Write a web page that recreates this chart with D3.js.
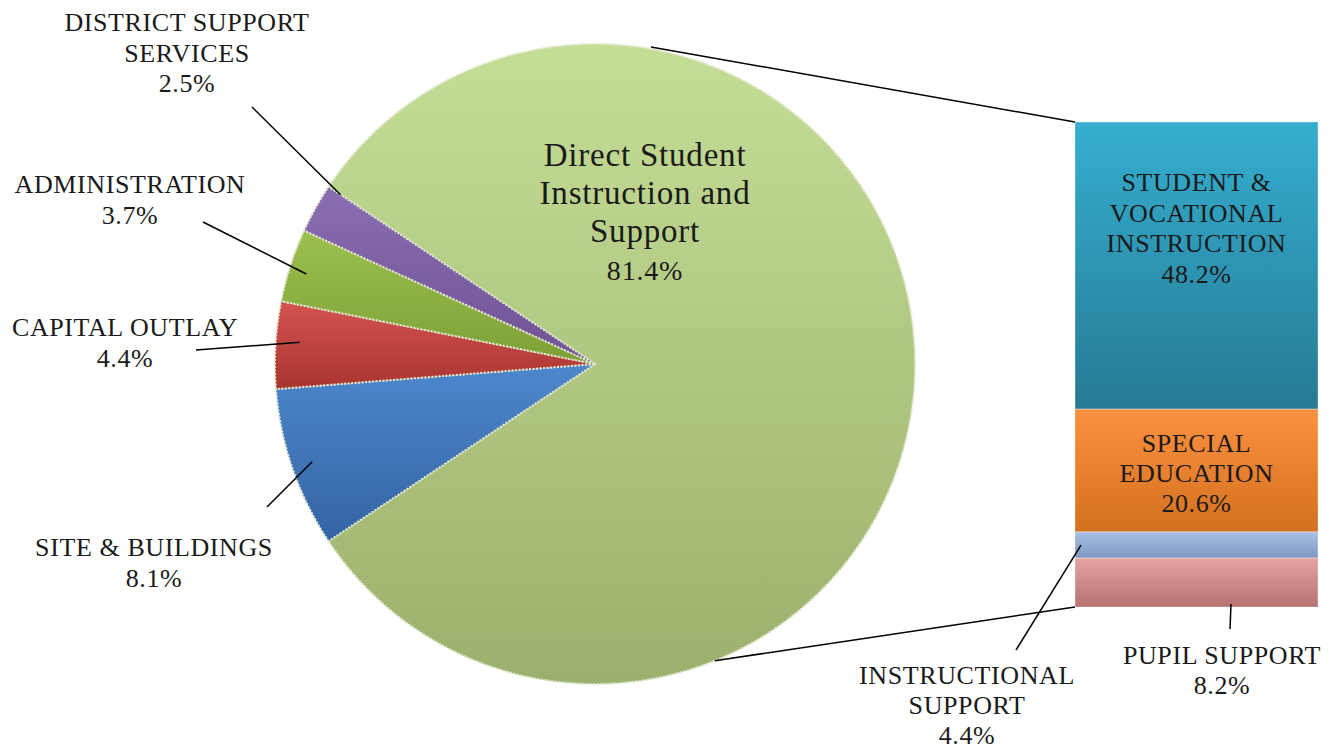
<!DOCTYPE html>
<html>
<head>
  <meta charset="utf-8" />
  <title>Expenditures by function</title>
  <style>
    body { margin: 0; background: #ffffff; }
    svg text { font-family: 'Liberation Serif', 'DejaVu Serif', serif; fill: #1a1a1a; }
  </style>
  <script src="https://cdnjs.cloudflare.com/ajax/libs/d3/7.8.5/d3.min.js"></script>
</head>
<body>
  <div id="chart"></div>
  <script>
    // pie slices (main slice first, then the small ones going round)
    var pieNames = ["Direct Student Instruction and Support", "SITE & BUILDINGS", "CAPITAL OUTLAY", "ADMINISTRATION", "DISTRICT SUPPORT SERVICES"];
    var pieLines = [["Direct Student", "Instruction and", "Support"], ["SITE & BUILDINGS"], ["CAPITAL OUTLAY"], ["ADMINISTRATION"], ["DISTRICT SUPPORT", "SERVICES"]];
    var pieValues = [81.4, 8.1, 4.4, 3.7, 2.5];

    // split of the main slice into the bar
    var barNames = ["STUDENT & VOCATIONAL INSTRUCTION", "SPECIAL EDUCATION", "INSTRUCTIONAL SUPPORT", "PUPIL SUPPORT"];
    var barLines = [["STUDENT &", "VOCATIONAL", "INSTRUCTION"], ["SPECIAL", "EDUCATION"], ["INSTRUCTIONAL", "SUPPORT"], ["PUPIL SUPPORT"]];
    var barValues = [48.2, 20.6, 4.4, 8.2];

    var pieColors = [["#c5de96", "#9bb06c"], ["#4d87cc", "#3464a3"], ["#d4534f", "#a83531"], ["#9cc04e", "#7e9f37"], ["#8b6db3", "#6f5394"]];
    var barColors = [["#35aed0", "#267a93"], ["#fb9140", "#d4701f"], ["#a7c0e3", "#7f98c2"], ["#e6a2a0", "#b47270"]];

    var w = 1334, h = 749;
    var cx = 595, cy = 364, r = 320;

    var svg = d3.select("#chart").append("svg")
      .attr("width", w)
      .attr("height", h);

    var defs = svg.append("defs");
    function grad(id, c) {
      var g = defs.append("linearGradient").attr("id", id)
        .attr("x1", 0).attr("y1", 0).attr("x2", 0).attr("y2", 1);
      g.append("stop").attr("offset", "0%").attr("stop-color", c[0]);
      g.append("stop").attr("offset", "100%").attr("stop-color", c[1]);
    }
    pieColors.forEach(function (c, i) { grad("pg" + i, c); });
    barColors.forEach(function (c, i) { grad("bg" + i, c); });

    // main slice centred on 3 o'clock like excel does
    var total = d3.sum(pieValues);
    var start = Math.PI / 2 - Math.PI * pieValues[0] / total;
    var pie = d3.pie().sort(null).startAngle(start).endAngle(start + 2 * Math.PI);
    var arcs = pie(pieValues);
    var arc = d3.arc().innerRadius(0).outerRadius(r);

    var g = svg.append("g").attr("transform", "translate(" + cx + "," + cy + ")");
    g.selectAll("path.slice")
      .data(arcs)
      .enter()
      .append("path")
      .attr("class", "slice")
      .attr("d", arc)
      .attr("fill", function (d, i) { return "url(#pg" + i + ")"; })
      .attr("stroke", "#dfe6cc")
      .attr("stroke-width", 2)
      .attr("stroke-dasharray", "2,1.5");

    function pt(a, rr) {
      return [cx + rr * Math.sin(a), cy - rr * Math.cos(a)];
    }

    // bar of the split
    var barX = 1075, barW = 243;
    var barY = d3.scaleLinear().domain([0, d3.sum(barValues)]).range([122, 607]);
    var cum = [0];
    barValues.forEach(function (v, i) { cum.push(cum[i] + v); });

    svg.append("g").selectAll("rect")
      .data(barValues)
      .enter()
      .append("rect")
      .attr("x", barX)
      .attr("y", function (d, i) { return barY(cum[i]); })
      .attr("width", barW)
      .attr("height", function (d) { return barY(d) - barY(0); })
      .attr("fill", function (d, i) { return "url(#bg" + i + ")"; })
      .attr("stroke", "rgba(255,255,255,0.35)")
      .attr("stroke-width", 1);

    // connector lines pie -> bar
    var topPt = pt(10 * Math.PI / 180, r + 2);
    var botPt = pt(158 * Math.PI / 180, r);
    svg.append("line")
      .attr("x1", topPt[0]).attr("y1", topPt[1])
      .attr("x2", barX).attr("y2", barY(0))
      .attr("stroke", "#000").attr("stroke-width", 1.5);
    svg.append("line")
      .attr("x1", botPt[0]).attr("y1", botPt[1])
      .attr("x2", barX).attr("y2", barY(cum[cum.length - 1]))
      .attr("stroke", "#000").attr("stroke-width", 1.5);

    function label(cxT, lines, pct, y0, step, size, pctSize) {
      var t = svg.append("text")
        .attr("text-anchor", "middle")
        .attr("font-size", size + "px")
        .attr("letter-spacing", "0.6px");
      lines.forEach(function (l, i) {
        t.append("tspan").attr("x", cxT).attr("y", y0 + i * step).text(l);
      });
      t.append("tspan").attr("x", cxT).attr("y", y0 + lines.length * step)
        .attr("font-size", (pctSize || size) + "px")
        .text(pct.toFixed(1) + "%");
      return t;
    }

    // main slice label
    label(645, pieLines[0], pieValues[0], 166, 38, 33, 28).attr("letter-spacing", "0.8px");

    // outside labels for the small slices: text centre, leader outer end, where on slice
    var pieLayout = [null,
      { x: 154, y: 556, lx: 267, ly: 507, at: 0.5, rr: 0.935 },
      { x: 125, y: 336, lx: 196, ly: 350, at: 0.55, rr: 0.925 },
      { x: 130, y: 193, lx: 203, ly: 222, at: 0.45, rr: 0.945 },
      { x: 187, y: 31, lx: 252, ly: 107, at: 1.0, rr: 0.955 }];

    arcs.forEach(function (d, i) {
      if (i === 0) return;
      var L = pieLayout[i];
      var a = d.startAngle + (d.endAngle - d.startAngle) * L.at;
      var p = pt(a, r * L.rr);
      svg.append("line")
        .attr("x1", L.lx).attr("y1", L.ly)
        .attr("x2", p[0]).attr("y2", p[1])
        .attr("stroke", "#000").attr("stroke-width", 1.5);
      label(L.x, pieLines[i], pieValues[i], L.y, 30.5, 26);
    });

    // bar labels
    var barMid = barX + barW / 2;
    label(barMid, barLines[0], barValues[0], 191, 30.5, 26);
    label(barMid, barLines[1], barValues[1], 452, 30, 26);

    // instructional support, outside with leader
    var instY = (barY(cum[2]) + barY(cum[3])) / 2;
    svg.append("line")
      .attr("x1", 1016).attr("y1", 650)
      .attr("x2", barX + 6).attr("y2", instY)
      .attr("stroke", "#000").attr("stroke-width", 1.5);
    label(967, barLines[2], barValues[2], 684, 30, 26);

    // pupil support
    svg.append("line")
      .attr("x1", 1231).attr("y1", barY(cum[4]) - 3)
      .attr("x2", 1230).attr("y2", 629)
      .attr("stroke", "#000").attr("stroke-width", 1.5);
    label(1222, barLines[3], barValues[3], 664, 30, 26);
  </script>
</body>
</html>
